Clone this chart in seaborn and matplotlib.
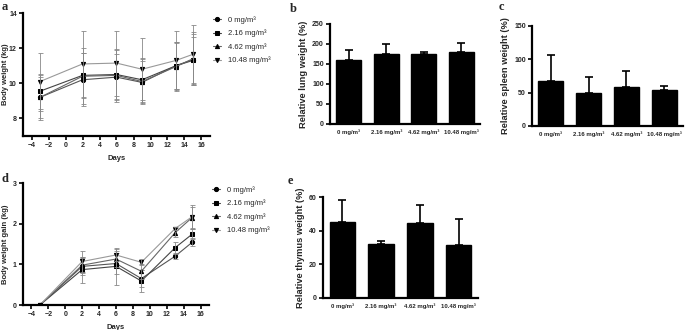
import numpy as np
import pandas as pd
import seaborn as sns
from matplotlib import pyplot as plt

sns.set_style('ticks')
plt.rcParams['font.family'] = ['Liberation Sans', 'DejaVu Sans']

doses = ['0 mg/m³', '2.16 mg/m³', '4.62 mg/m³', '10.48 mg/m³']
days = [-3, 2, 6, 9, 13, 15]

# body weight (kg)
bw_0 = [9.2, 10.2, 10.35, 10.05, 11.0, 11.3]
bw_216 = [9.55, 10.45, 10.5, 10.2, 11.0, 11.35]
bw_462 = [9.2, 10.4, 10.45, 10.1, 10.95, 11.4]
bw_1048 = [10.1, 11.1, 11.15, 10.8, 11.3, 11.65]
bw_0_sd = [1.15, 1.5, 1.3, 1.2, 1.3, 1.35]
bw_216_sd = [1.0, 1.3, 1.4, 1.25, 1.35, 1.45]
bw_462_sd = [1.3, 1.6, 1.5, 1.3, 1.4, 1.5]
bw_1048_sd = [1.65, 1.9, 1.85, 1.75, 1.7, 1.65]

# body weight gain (kg)
gain_0 = [0, 0.95, 1.02, 0.65, 1.2, 1.54]
gain_216 = [0, 0.87, 0.95, 0.59, 1.41, 1.74]
gain_462 = [0, 0.98, 1.13, 0.83, 1.78, 2.15]
gain_1048 = [0, 1.07, 1.23, 1.05, 1.88, 2.17]
gain_0_sd = [0, 0.2, 0.25, 0.2, 0.08, 0.1]
gain_216_sd = [0, 0.32, 0.45, 0.26, 0.15, 0.12]
gain_462_sd = [0, 0.2, 0.2, 0.18, 0.12, 0.25]
gain_1048_sd = [0, 0.25, 0.15, 0.07, 0.04, 0.3]

# organ weights
lung = [160, 175, 175, 180]
lung_sd = [25, 25, 5, 22]
spleen = [68, 50, 58, 54]
spleen_sd = [38, 24, 25, 6]
thymus = [45, 32, 44.5, 31.5]
thymus_sd = [13, 2, 10.5, 15.5]

markers = ['o', 's', '^', 'v']
line_cols = ['#555555', '#444444', '#666666', '#999999']

W, H = 685, 330
fig = plt.figure(figsize=(6.85, 3.3), dpi=100)


def px_axes(l, t, r, b):
    return fig.add_axes([l / W, 1 - b / H, (r - l) / W, (b - t) / H])


def style(ax):
    sns.despine(ax=ax)
    for s in ['left', 'bottom']:
        ax.spines[s].set_linewidth(1.6)
        ax.spines[s].set_color('black')
    ax.tick_params(length=3, width=1.2, pad=1.5, labelsize=5, color='black')
    for lab in ax.get_xticklabels() + ax.get_yticklabels():
        lab.set_fontweight('bold')


def line_panel(ax, series, sds, ylim, yticks, ylabel):
    for i, (vals, sd) in enumerate(zip(series, sds)):
        sns.lineplot(x=days, y=vals, ax=ax, color=line_cols[i], lw=0.8,
                     marker=markers[i], markersize=3, markerfacecolor='black',
                     markeredgecolor='black', label=doses[i])
        ax.errorbar(days, vals, yerr=sd, fmt='none', ecolor='#888888',
                    elinewidth=0.6, capsize=1.8, capthick=0.6)
    ax.set_xlim(-5, 17)
    ax.set_xticks(range(-4, 17, 2))
    ax.set_ylim(*ylim)
    ax.set_yticks(yticks)
    ax.set_xlabel('Days', fontsize=5.5, fontweight='bold', labelpad=4)
    ax.set_ylabel(ylabel, fontsize=5.5, fontweight='bold')
    ax.yaxis.set_label_coords(-0.075, 0.5)
    ax.legend(loc='upper left', bbox_to_anchor=(0.98, 1.03), frameon=False,
              fontsize=5.5, handlelength=1.0, labelspacing=0.75,
              handletextpad=0.9)
    style(ax)


def bar_panel(ax, vals, sd, ymax, yticks, ylabel):
    df = pd.DataFrame({'dose': doses, 'val': vals})
    sns.barplot(data=df, x='dose', y='val', ax=ax, color='black',
                width=0.66, saturation=1, edgecolor='black')
    ax.errorbar(range(4), vals, yerr=[np.zeros(4), sd], fmt='none',
                ecolor='black', elinewidth=1.2, capsize=3, capthick=1.2)
    ax.set_xlim(-0.5, 3.5)
    ax.set_ylim(0, ymax)
    ax.set_yticks(yticks)
    ax.set_xlabel('')
    ax.set_ylabel(ylabel, fontsize=6.7, fontweight='bold', labelpad=3)
    style(ax)
    ax.tick_params(axis='x', length=0, labelsize=4.3, pad=4)


ax_a = px_axes(23, 13, 210, 136)
line_panel(ax_a, [bw_0, bw_216, bw_462, bw_1048],
           [bw_0_sd, bw_216_sd, bw_462_sd, bw_1048_sd],
           (7, 14), [8, 10, 12, 14], 'Body weight (kg)')

ax_d = px_axes(23, 183, 209, 305)
line_panel(ax_d, [gain_0, gain_216, gain_462, gain_1048],
           [gain_0_sd, gain_216_sd, gain_462_sd, gain_1048_sd],
           (0, 3), [0, 1, 2, 3], 'Body weight gain (kg)')

ax_b = px_axes(330, 24, 480, 124)
bar_panel(ax_b, lung, lung_sd, 250, range(0, 251, 50), 'Relative lung weight (%)')

ax_c = px_axes(532, 26, 683, 126)
bar_panel(ax_c, spleen, spleen_sd, 150, [0, 50, 100, 150], 'Relative spleen weight (%)')

ax_e = px_axes(323, 197, 478, 298)
bar_panel(ax_e, thymus, thymus_sd, 60, [0, 20, 40, 60], 'Relative thymus weight (%)')

for lab, x, y in [('a', 2, 1), ('b', 290, 3), ('c', 499, 1), ('d', 2, 173), ('e', 288, 175)]:
    fig.text(x / W, 1 - y / H, lab, family='Liberation Serif', fontweight='bold',
             fontsize=9, va='top', ha='left')

fig.savefig('out.png', dpi=100)
